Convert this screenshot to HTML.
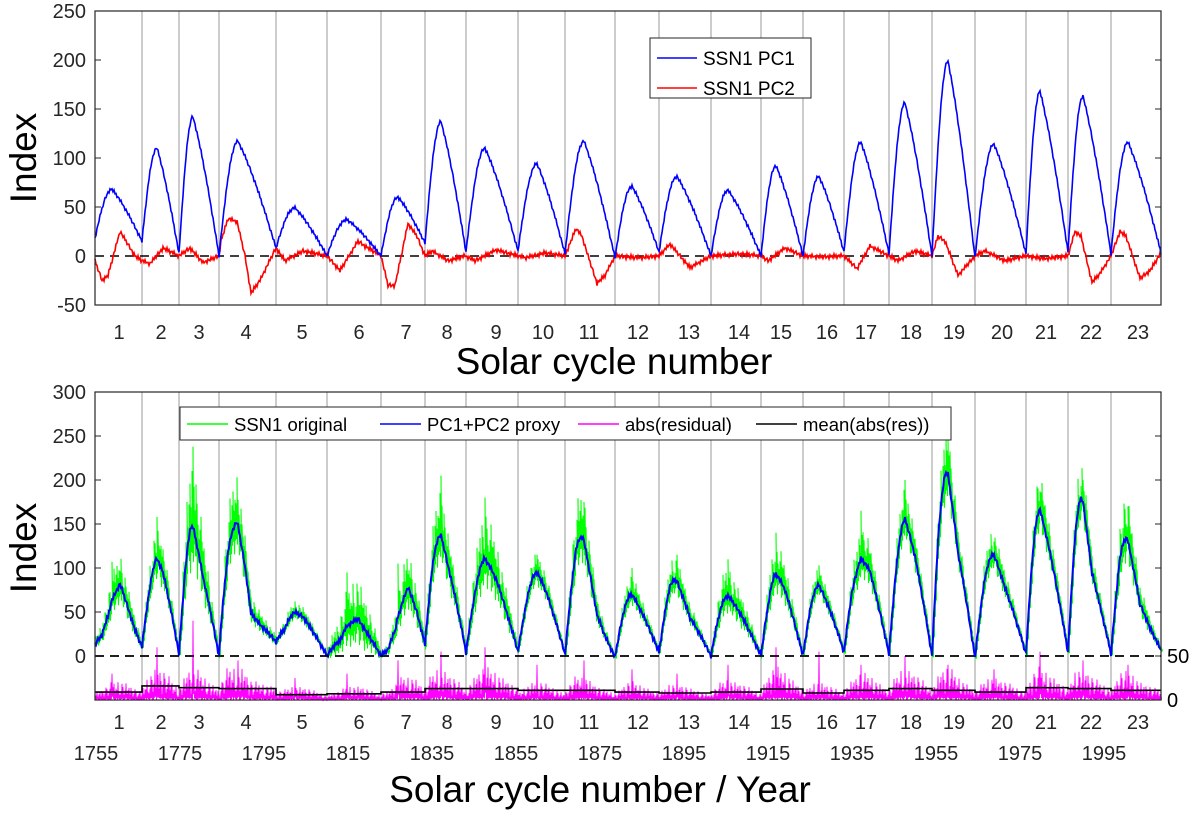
<!DOCTYPE html>
<html><head><meta charset="utf-8"><style>
html,body{margin:0;padding:0;background:#fff}
svg text{font-family:"Liberation Sans",Arial,sans-serif}
</style></head><body>
<svg id="chart" width="1200" height="812" viewBox="0 0 1200 812" xmlns="http://www.w3.org/2000/svg">
<g id="topPanel"></g>
<g id="botPanel"></g>
</svg>
<script>
// ---- data (time index in months from series start) ----
const cycleBounds=[0,141,252,372,543,696,858,990,1113,1269,1410,1560,1692,1848,1998,2124,2247,2382,2511,2640,2793,2919,3048,3198];
const cycleLabels=["1","2","3","4","5","6","7","8","9","10","11","12","13","14","15","16","17","18","19","20","21","22","23"];
const cycleLabelT=[72,198,312,453,621,792,933,1056,1203,1344,1482,1629,1782,1932,2058,2196,2313,2448,2577,2721,2853,2988,3129];
const pc1PeakT=[51,186,294,429,600,756,909,1038,1170,1326,1467,1611,1746,1899,2043,2172,2298,2430,2559,2697,2835,2964,3099];
const pc1Peak=[68,110,142,117,49,37,60,137,110,94,117,71,81,67,92,81,116,156,199,114,168,163,116];
const pc1Min=[18,15,2,0,8,0,0,13,4,5,2,-2,4,0,0,0,4,2,0,-2,2,4,2,3];
const pc2T=[0,21,39,75,93,120,141,165,204,252,285,324,372,378,399,426,450,468,495,531,543,570,624,696,735,789,810,858,879,900,939,966,990,1011,1059,1110,1140,1203,1269,1290,1350,1410,1443,1461,1479,1506,1530,1560,1635,1692,1725,1785,1848,1935,1998,2019,2070,2124,2175,2247,2286,2325,2382,2409,2460,2511,2529,2550,2589,2640,2670,2730,2793,2850,2919,2940,2958,2991,3015,3048,3075,3093,3135,3165,3198];
const pc2V=[-5,-25,-20,25,15,0,-5,-8,8,0,8,-7,0,15,38,35,0,-38,-25,0,8,-5,5,0,-15,15,10,0,-30,-30,33,20,0,5,-5,0,-5,6,0,-2,3,0,28,20,0,-28,-20,0,-2,0,12,-12,0,2,0,-5,8,0,-1,0,-13,10,0,-5,5,0,20,15,-20,0,5,-5,0,-3,0,25,20,-27,-18,0,25,20,-23,-15,3];
const greenMax=[107,158,238,173,62,95,105,205,180,115,175,100,115,110,140,103,165,200,250,130,187,200,170];
const resMass=[20,35,35,35,15,15,25,35,35,20,25,20,18,22,35,20,30,35,35,25,35,35,30];
const resSpike=[30,60,90,45,25,30,45,55,60,40,45,35,30,40,60,55,40,50,40,35,55,45,40];
const meanRes=[9,16,14,13,6,7,9,13,13,11,11,9,8,9,12.5,8,11,13,11,9,14,13,11];
const jitter=[0.3,-0.8,0.6,0.1,-0.4,0.9,-0.2,0.5,-0.7,0.2,0.8,-0.5,0.0,0.4,-0.9,0.7,-0.1,0.3,-0.6,1.0,-0.3,0.6,-0.8,0.2,0.5,-0.4,0.9,-0.2,0.1];
const topTicks=[-50,0,50,100,150,200,250];
const botTicks=[0,50,100,150,200,250,300];
const yearTicks=[1755,1775,1795,1815,1835,1855,1875,1895,1915,1935,1955,1975,1995];

// ---- layout / axes ----
const X0=95,X1=1161,TMAX=3198;
const xS=t=>X0+t/TMAX*(X1-X0);
const yTop=v=>256-v*0.98;
const yBot=v=>656-v*0.88;
const yRes=r=>700-r*0.88;
const yearX=y=>96+(y-1755)*4.2;
const NS='http://www.w3.org/2000/svg';
function el(parent,tag,attrs,text){const e=document.createElementNS(NS,tag);for(const k in attrs)e.setAttribute(k,attrs[k]);if(text!==undefined)e.textContent=text;parent.appendChild(e);return e;}

function cycleOf(t){for(let c=0;c<23;c++){if(t<=cycleBounds[c+1])return c;}return 22;}
function pc1(t){const c=cycleOf(t);const b0=cycleBounds[c],b1=cycleBounds[c+1],pt=pc1PeakT[c],P=pc1Peak[c],m0=pc1Min[c],m1=pc1Min[c+1];
 if(t<pt){const u=(t-b0)/(pt-b0);return m0+(P-m0)*Math.sin(u*Math.PI/2);}
 const u=(t-pt)/(b1-pt);return P-(P-m1)*(0.7*u+0.3*(1-Math.cos(u*Math.PI/2)));}
function pc2(t){for(let i=0;i<pc2T.length-1;i++){if(t<=pc2T[i+1]){const f=(t-pc2T[i])/(pc2T[i+1]-pc2T[i]);return pc2V[i]+f*(pc2V[i+1]-pc2V[i]);}}return pc2V[pc2V.length-1];}
const J=jitter.length;
const samples=[];for(let t=0;t<=TMAX;t+=3)samples.push(t);

const topG=document.getElementById('topPanel'),botG=document.getElementById('botPanel');

function frame(g,yTopPx,yBotPx,ticks,yf,prefix){
 for(let c=1;c<23;c++){const x=xS(cycleBounds[c]);
  const l=el(g,'line',{x1:x,x2:x,y1:yTopPx,y2:yBotPx,stroke:'#9a9a9a','stroke-width':1});
  
  }
 ticks.forEach(v=>{const y=yf(v);
  const a=el(g,'line',{x1:X0,x2:X0+6,y1:y,y2:y,stroke:'#262626','stroke-width':1});
  
  const b=el(g,'line',{x1:X1-6,x2:X1,y1:y,y2:y,stroke:'#262626','stroke-width':1});
  
  const tt=el(g,'text',{x:86,y:y+7,'text-anchor':'end','font-size':20,fill:'#262626'},String(v));
  });
 const z=el(g,'line',{x1:X0,x2:X1,y1:yf(0),y2:yf(0),stroke:'#000','stroke-width':1.6,'stroke-dasharray':'9,6'});
 
}
function box(g,yTopPx,yBotPx,prefix){const r=el(g,'rect',{x:X0,y:yTopPx,width:X1-X0,height:yBotPx-yTopPx,fill:'none',stroke:'#262626','stroke-width':1.2});
 }
function cycleLabelRow(g,y,prefix){cycleLabels.forEach((s,i)=>{const t=el(g,'text',{x:xS(cycleLabelT[i]),y:y,'text-anchor':'middle','font-size':20,fill:'#262626'},s);
 });}

// ---------- TOP PANEL ----------
frame(topG,11,305,topTicks,yTop,'top-');
let p1='',p2='';
samples.forEach((t,i)=>{const x=xS(t).toFixed(1);p1+=(i?'L':'M')+x+','+yTop(pc1(t)+jitter[i%J]*2).toFixed(1);p2+=(i?'L':'M')+x+','+yTop(pc2(t)+jitter[(i+5)%J]*2.5).toFixed(1);});
const redL=el(topG,'path',{d:p2,fill:'none',stroke:'#ff0000','stroke-width':1.6});

const blueL=el(topG,'path',{d:p1,fill:'none',stroke:'#0000ff','stroke-width':1.6});

box(topG,11,305,'top-');
cycleLabelRow(topG,339,'top-');
const tl=el(topG,'g',{});
el(tl,'rect',{x:650,y:38,width:161,height:60,fill:'#fff',stroke:'#262626','stroke-width':1});
const le1=el(tl,'line',{x1:657,x2:697,y1:58,y2:58,stroke:'#0000ff','stroke-width':1.6});
const lt1=el(tl,'text',{x:703,y:65,'font-size':19,fill:'#000'},'SSN1 PC1');
const le2=el(tl,'line',{x1:657,x2:697,y1:88,y2:88,stroke:'#ff0000','stroke-width':1.6});
const lt2=el(tl,'text',{x:703,y:95,'font-size':19,fill:'#000'},'SSN1 PC2');
const tyT=el(topG,'text',{x:0,y:0,transform:'translate(36,158) rotate(-90)','text-anchor':'middle','font-size':37,fill:'#000'},'Index');

const txT=el(topG,'text',{x:614,y:374,'text-anchor':'middle','font-size':37,fill:'#000'},'Solar cycle number');


// ---------- BOTTOM PANEL ----------
frame(botG,392,700,botTicks,yBot,'bottom-');
let pm='';
samples.forEach((t,i)=>{const c=cycleOf(t);const p=pc1(t)+pc2(t);const env=Math.max(0,Math.min(1,p/pc1Peak[c]));
 let h=resMass[c]*(0.3+0.7*env)*(0.2+0.9*Math.abs(jitter[(i+3)%J]));
 if(Math.abs(t-pc1PeakT[c])<2)h=resSpike[c];
 const lo=h*0.15*Math.abs(jitter[(i+13)%J]);
 const x=xS(t);pm+=(i?'L':'M')+x.toFixed(1)+','+yRes(h).toFixed(1)+'L'+(x+0.5).toFixed(1)+','+yRes(lo).toFixed(1);});
const mag=el(botG,'path',{d:pm,fill:'none',stroke:'#ff00ff','stroke-width':0.9});

let pk='';
for(let c=0;c<23;c++){pk+=(c?'L':'M')+xS(cycleBounds[c]).toFixed(1)+','+yRes(meanRes[c]).toFixed(1)+'L'+xS(cycleBounds[c+1]).toFixed(1)+','+yRes(meanRes[c]).toFixed(1);}
const blk=el(botG,'path',{d:pk,fill:'none',stroke:'#000','stroke-width':1.6});

let pg='',pb='';
samples.forEach((t,i)=>{const c=cycleOf(t);const p=pc1(t)+pc2(t);const P=pc1Peak[c];const k=Math.max(0.3,(greenMax[c]-P)/(P+8));
 const pp=Math.max(p,0)+8;let up=p+k*pp*Math.abs(jitter[i%J])*0.8;let dn=p-0.5*k*pp*Math.abs(jitter[(i+11)%J]);
 if(Math.abs(t-pc1PeakT[c])<2)up=greenMax[c];
 dn=Math.max(dn,-2);const x=xS(t);
 pg+=(i?'L':'M')+x.toFixed(1)+','+yBot(up).toFixed(1)+'L'+(x+0.5).toFixed(1)+','+yBot(dn).toFixed(1)+'L'+(x+1).toFixed(1)+','+yBot(p+0.5*(up-p)).toFixed(1)+'L'+(x+1.5).toFixed(1)+','+yBot(p-0.5*(p-dn)).toFixed(1);
 pb+=(i?'L':'M')+x.toFixed(1)+','+yBot(p+jitter[(i+7)%J]*3).toFixed(1);});
const grn=el(botG,'path',{d:pg,fill:'none',stroke:'#00ff00','stroke-width':1.1});

const blu=el(botG,'path',{d:pb,fill:'none',stroke:'#0000ff','stroke-width':2});

const z2=el(botG,'line',{x1:X0,x2:X1,y1:yBot(0),y2:yBot(0),stroke:'#000','stroke-width':1.6,'stroke-dasharray':'9,6'});

box(botG,392,700,'bottom-');
const r50=el(botG,'text',{x:1167,y:663,'font-size':20,fill:'#000'},'50');
const r0=el(botG,'text',{x:1167,y:707,'font-size':20,fill:'#000'},'0');
cycleLabelRow(botG,729,'bottom-');
yearTicks.forEach(y=>{const t=el(botG,'text',{x:yearX(y),y:760,'text-anchor':'middle','font-size':20,fill:'#262626'},String(y));
 });
const bl=el(botG,'g',{});
el(bl,'rect',{x:180,y:407,width:771,height:33,fill:'#fff',stroke:'#262626','stroke-width':1});
const items=[[187,'#00ff00','SSN1 original','legend-original'],[380,'#0000ff','PC1+PC2 proxy','legend-proxy'],[578,'#ff00ff','abs(residual)','legend-residual'],[756,'#000000','mean(abs(res))','legend-mean-residual']];
items.forEach(it=>{const s=el(bl,'line',{x1:it[0],x2:it[0]+41,y1:424,y2:424,stroke:it[1],'stroke-width':1.6});
 
 const tt=el(bl,'text',{x:it[0]+47,y:431,'font-size':18.5,fill:'#000'},it[2]);
 });
const by=el(botG,'text',{x:0,y:0,transform:'translate(36,548) rotate(-90)','text-anchor':'middle','font-size':37,fill:'#000'},'Index');

const bx=el(botG,'text',{x:600,y:802,'text-anchor':'middle','font-size':37,fill:'#000'},'Solar cycle number / Year');

</script>
</body></html>
